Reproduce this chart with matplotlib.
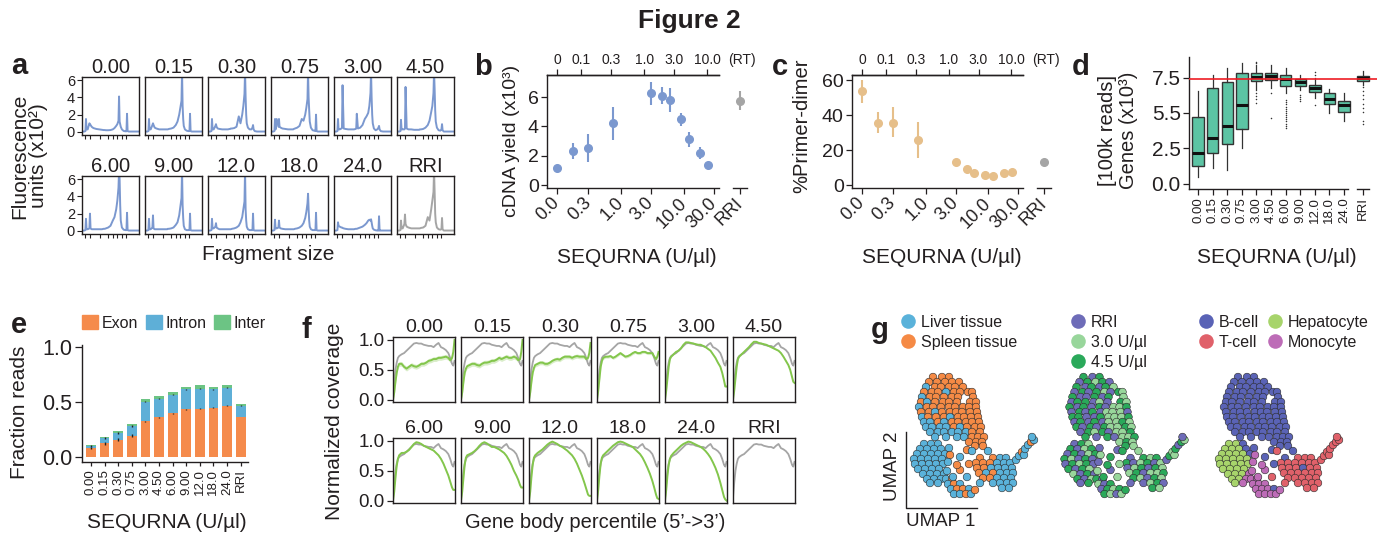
import numpy as np
import matplotlib
matplotlib.use("Agg")
import matplotlib.pyplot as plt
from matplotlib.patches import Patch
from matplotlib.lines import Line2D

# ---------------------------------------------------------------- data
CONC_LABELS = ["0.00", "0.15", "0.30", "0.75", "3.00", "4.50",
               "6.00", "9.00", "12.0", "18.0", "24.0"]
PANEL_TITLES = CONC_LABELS + ["RRI"]
SEQURNA = [0.0, 0.15, 0.30, 0.75, 3.0, 4.5, 6.0, 9.0, 12.0, 18.0, 24.0]

# (a) fluorescence traces (x10^2) vs fragment size (relative position)
FRAG_X = [0, 4, 6, 7, 8, 10, 13, 14, 15, 17, 20, 25, 30, 35, 38, 39, 40, 42, 46, 50,
          54, 57, 60, 62, 64, 65, 66, 67, 68, 70, 73, 76, 78, 79, 80, 82, 86, 90, 95, 100]
FRAG_TICKS = [5, 14, 32, 46, 55, 62, 71, 78]
TRACE_000 = [0.05, 0.05, 0.1, 1.5, 0.3, 0.3, 1.0, 0.9, 0.8, 0.6, 0.45, 0.35, 0.3, 0.25, 0.22, 0.22, 0.22, 0.2, 0.2, 0.22,
             0.3, 0.45, 0.7, 0.9, 1.3, 4.1, 1.2, 0.9, 0.6, 0.3, 0.12, 0.08, 0.08, 2.1, 0.1, 0.05, 0.05, 0.05, 0.05, 0.05]
TRACE_015 = [0.05, 0.05, 0.1, 1.5, 0.3, 0.3, 0.8, 1.0, 0.8, 0.5, 0.4, 0.3, 0.3, 0.3, 0.3, 0.3, 0.3, 0.35, 0.4, 0.5,
             0.8, 1.2, 2.0, 2.8, 3.6, 7.0, 3.0, 1.5, 0.7, 0.3, 0.15, 0.1, 0.1, 2.1, 0.1, 0.05, 0.05, 0.05, 0.05, 0.05]
TRACE_030 = [0.05, 0.05, 0.1, 1.5, 0.3, 0.3, 0.7, 0.9, 0.6, 0.4, 0.35, 0.3, 0.3, 0.3, 0.35, 0.35, 0.4, 0.4, 0.45, 0.6,
             1.8, 1.0, 2.0, 3.0, 4.4, 7.0, 4.0, 2.0, 1.0, 0.5, 0.3, 0.3, 0.5, 0.8, 0.3, 0.1, 0.05, 0.05, 0.05, 0.05]
TRACE_075 = [0.05, 0.05, 0.1, 1.5, 0.3, 1.5, 0.6, 1.5, 0.6, 0.5, 0.4, 0.35, 0.3, 0.3, 0.3, 0.3, 0.35, 0.4, 0.5, 0.7,
             1.5, 1.3, 2.0, 2.8, 3.8, 7.0, 4.0, 2.5, 1.2, 0.5, 0.2, 0.15, 0.1, 2.0, 0.1, 0.05, 0.05, 0.05, 0.05, 0.05]
TRACE_300 = [0.05, 0.05, 0.1, 1.5, 0.3, 0.3, 0.4, 0.5, 5.4, 0.4, 0.35, 0.3, 0.3, 0.3, 0.35, 0.4, 2.1, 0.4, 0.5, 0.8,
             1.5, 1.8, 2.2, 3.0, 4.5, 7.0, 4.0, 2.0, 1.0, 0.4, 0.2, 0.3, 0.5, 0.7, 0.3, 0.1, 0.05, 0.05, 0.05, 0.05]
TRACE_450 = [0.05, 0.05, 0.1, 1.4, 0.3, 0.3, 0.3, 0.4, 5.2, 0.4, 0.3, 0.3, 0.25, 0.25, 0.25, 0.25, 0.3, 0.3, 0.35, 0.5,
             0.8, 1.3, 2.3, 3.0, 4.5, 7.0, 5.0, 2.5, 1.2, 0.5, 0.2, 0.15, 0.3, 0.9, 0.2, 0.05, 0.05, 0.05, 0.05, 0.05]
TRACE_600 = [0.05, 0.05, 0.1, 1.4, 0.2, 0.2, 0.3, 2.0, 0.3, 0.2, 0.2, 0.2, 0.2, 0.2, 0.25, 0.25, 0.25, 0.3, 0.4, 0.6,
             1.2, 1.6, 2.5, 3.5, 5.0, 7.0, 6.0, 3.0, 1.2, 0.4, 0.15, 0.1, 0.1, 2.1, 0.1, 0.05, 0.05, 0.05, 0.05, 0.05]
TRACE_900 = [0.05, 0.05, 0.1, 1.4, 0.2, 0.2, 0.4, 1.8, 0.3, 0.2, 0.2, 0.2, 0.2, 0.2, 0.2, 0.2, 0.25, 0.25, 0.3, 0.4,
             0.7, 1.0, 1.8, 2.8, 3.8, 7.0, 3.0, 1.5, 0.6, 0.2, 0.1, 0.1, 0.1, 2.0, 0.1, 0.05, 0.05, 0.05, 0.05, 0.05]
TRACE_120 = [0.05, 0.05, 0.1, 1.4, 0.3, 0.3, 0.5, 0.9, 0.4, 0.3, 0.2, 0.2, 0.2, 0.2, 0.2, 0.2, 0.2, 0.25, 0.3, 0.4,
             0.6, 1.0, 1.6, 2.5, 3.4, 7.0, 2.5, 1.2, 0.5, 0.2, 0.1, 0.1, 0.1, 2.0, 0.1, 0.05, 0.05, 0.05, 0.05, 0.05]
TRACE_180 = [0.05, 0.05, 0.1, 1.3, 0.3, 0.3, 0.4, 1.2, 0.4, 0.3, 0.25, 0.2, 0.2, 0.2, 0.2, 0.2, 0.2, 0.25, 0.3, 0.4,
             0.6, 0.9, 1.5, 2.2, 3.2, 4.3, 2.5, 1.2, 0.5, 0.2, 0.1, 0.1, 0.1, 2.1, 0.1, 0.05, 0.05, 0.05, 0.05, 0.05]
TRACE_240 = [0.05, 0.05, 0.1, 1.0, 0.6, 0.5, 0.4, 0.4, 0.35, 0.3, 0.25, 0.2, 0.2, 0.2, 0.25, 0.25, 0.25, 0.3, 0.4, 0.5,
             0.7, 0.9, 1.2, 1.3, 1.2, 1.35, 1.0, 0.6, 0.3, 0.15, 0.08, 0.05, 0.05, 1.7, 0.05, 0.05, 0.05, 0.05, 0.05, 0.05]
TRACE_RRI = [0.05, 0.05, 0.1, 1.2, 0.3, 0.3, 0.8, 1.9, 0.8, 0.5, 0.4, 0.3, 0.3, 0.3, 0.3, 0.3, 0.3, 0.35, 0.4, 0.6,
             1.6, 1.2, 2.5, 3.5, 4.5, 7.0, 4.5, 2.0, 1.0, 0.4, 0.2, 0.15, 0.2, 1.5, 0.2, 0.05, 0.05, 0.05, 0.05, 0.05]
FLUOR_TRACES = [TRACE_000, TRACE_015, TRACE_030, TRACE_075, TRACE_300, TRACE_450,
                TRACE_600, TRACE_900, TRACE_120, TRACE_180, TRACE_240, TRACE_RRI]

# (b) cDNA yield (x10^3)
CDNA_YIELD = [1.18, 2.34, 2.50, 4.20, 6.30, 6.09, 5.80, 4.50, 3.11, 2.20, 1.36]
CDNA_LOW = [1.05, 1.77, 1.55, 3.07, 5.45, 5.50, 5.00, 4.02, 2.61, 1.77, 1.25]
CDNA_HIGH = [1.30, 2.84, 3.48, 5.30, 7.04, 6.66, 6.60, 4.93, 3.59, 2.61, 1.47]
CDNA_RRI, CDNA_RRI_LOW, CDNA_RRI_HIGH = 5.75, 5.10, 6.40

# (c) % primer-dimer
PRIMER_DIMER = [53.7, 35.8, 35.8, 25.7, 13.3, 9.0, 6.7, 5.7, 5.1, 7.0, 7.2]
PD_LOW = [47.0, 29.7, 27.4, 15.4, 12.3, 8.2, 6.0, 5.0, 4.4, 6.3, 6.5]
PD_HIGH = [60.0, 41.9, 44.6, 36.0, 14.3, 9.8, 7.4, 6.4, 5.8, 7.7, 7.9]
PD_RRI, PD_RRI_LOW, PD_RRI_HIGH = 13.3, 12.5, 14.1

SEQ_TICKS = [0.0, 0.3, 1.0, 3.0, 10.0, 30.0]
SEQ_TICK_LABELS = ["0.0", "0.3", "1.0", "3.0", "10.0", "30.0"]
RT_TICKS = [0.0, 0.1, 0.3, 1.0, 3.0, 10.0]
RT_TICK_LABELS = ["0", "0.1", "0.3", "1.0", "3.0", "10.0"]
RT_PER_SEQURNA = 0.43

# (d) genes detected (x10^3) box statistics
BOX_LABELS = CONC_LABELS + ["RRI"]
GENES_WHISLO = [0.50, 1.09, 0.97, 2.50, 6.60, 6.74, 6.38, 6.60, 6.03, 5.01, 4.45, 6.97]
GENES_Q1 = [1.27, 2.19, 2.78, 3.89, 7.28, 7.32, 6.92, 6.92, 6.50, 5.63, 5.08, 7.25]
GENES_MED = [2.15, 3.20, 4.10, 5.58, 7.56, 7.63, 7.39, 7.16, 6.74, 5.98, 5.56, 7.49]
GENES_Q3 = [4.73, 6.78, 7.20, 7.84, 7.80, 7.80, 7.68, 7.37, 6.97, 6.38, 5.86, 7.63]
GENES_WHISHI = [6.55, 7.68, 8.15, 8.55, 8.35, 8.35, 8.20, 7.68, 7.45, 6.67, 6.43, 7.98]
GENES_FLIERS = [[], [], [], [],
                [8.5, 8.62, 6.4, 6.2, 6.0, 5.7],
                [6.42, 4.62],
                [5.9, 5.75, 5.6, 5.45, 5.3, 5.15, 5.0, 4.85, 4.7, 4.55, 4.4, 4.25, 4.1, 3.95],
                [6.28, 6.12, 5.96, 5.82],
                [7.88, 7.7, 5.58],
                [], [],
                [6.82, 6.55, 6.25, 5.95, 5.65, 5.35, 5.1, 4.4, 4.2]]
GENES_REFERENCE = 7.4

# (e) fraction of reads
EXON = [0.082, 0.125, 0.155, 0.192, 0.326, 0.360, 0.396, 0.433, 0.439, 0.448, 0.466, 0.363]
INTRON = [0.018, 0.049, 0.061, 0.088, 0.177, 0.170, 0.171, 0.183, 0.183, 0.168, 0.165, 0.103]
INTER = [0.007, 0.006, 0.018, 0.019, 0.024, 0.025, 0.028, 0.024, 0.030, 0.024, 0.024, 0.016]
EXON_SD = [0.012, 0.014, 0.014, 0.014, 0.004, 0.003, 0.003, 0.004, 0.003, 0.003, 0.003, 0.003]
INTRON_SD = [0.006, 0.008, 0.009, 0.008, 0.003, 0.003, 0.003, 0.003, 0.003, 0.003, 0.003, 0.003]

# (f) gene body coverage
COV_X = [0, 2, 4, 6, 8, 10, 14, 18, 22, 26, 30, 34, 38, 42, 46, 50, 54, 58, 62, 66,
         70, 74, 78, 82, 86, 90, 93, 96, 98, 100]
COV_RRI = [0.05, 0.30, 0.50, 0.62, 0.70, 0.73, 0.76, 0.78, 0.82, 0.86, 0.90, 0.94, 0.95, 0.94, 0.94, 0.92, 0.91, 0.90, 0.90, 0.88,
           0.92, 0.95, 0.88, 0.86, 0.83, 0.78, 0.70, 0.60, 0.57, 0.65]
COV_000 = [0.0, 0.12, 0.30, 0.45, 0.55, 0.60, 0.60, 0.55, 0.52, 0.55, 0.58, 0.56, 0.55, 0.57, 0.60, 0.60, 0.62, 0.65, 0.66, 0.68,
           0.68, 0.70, 0.70, 0.71, 0.72, 0.70, 0.66, 0.70, 0.80, 1.00]
COV_015 = [0.0, 0.12, 0.30, 0.45, 0.52, 0.56, 0.58, 0.60, 0.60, 0.58, 0.57, 0.60, 0.62, 0.62, 0.63, 0.65, 0.65, 0.67, 0.70, 0.68,
           0.70, 0.72, 0.70, 0.70, 0.72, 0.70, 0.66, 0.68, 0.80, 1.00]
COV_030 = [0.0, 0.12, 0.30, 0.45, 0.53, 0.58, 0.60, 0.62, 0.62, 0.60, 0.60, 0.62, 0.65, 0.67, 0.68, 0.67, 0.70, 0.72, 0.72, 0.72,
           0.70, 0.72, 0.73, 0.72, 0.72, 0.72, 0.68, 0.70, 0.78, 0.95]
COV_075 = [0.0, 0.15, 0.35, 0.55, 0.65, 0.70, 0.72, 0.72, 0.73, 0.70, 0.72, 0.75, 0.78, 0.75, 0.72, 0.73, 0.75, 0.78, 0.80, 0.78,
           0.78, 0.80, 0.80, 0.78, 0.78, 0.78, 0.72, 0.68, 0.72, 0.80]
COV_300 = [0.0, 0.15, 0.35, 0.55, 0.68, 0.72, 0.76, 0.80, 0.82, 0.86, 0.92, 0.96, 0.96, 0.95, 0.94, 0.93, 0.92, 0.92, 0.90, 0.88,
           0.85, 0.82, 0.76, 0.70, 0.62, 0.55, 0.45, 0.32, 0.22, 0.22]
COV_450 = [0.0, 0.15, 0.35, 0.55, 0.68, 0.72, 0.76, 0.80, 0.84, 0.88, 0.93, 0.97, 0.97, 0.95, 0.94, 0.93, 0.92, 0.90, 0.88, 0.86,
           0.84, 0.82, 0.78, 0.72, 0.65, 0.58, 0.50, 0.38, 0.30, 0.28]
COV_600 = [0.0, 0.15, 0.38, 0.58, 0.70, 0.76, 0.80, 0.80, 0.82, 0.85, 0.90, 0.95, 0.98, 0.97, 0.95, 0.92, 0.90, 0.88, 0.86, 0.84,
           0.80, 0.76, 0.70, 0.62, 0.52, 0.42, 0.32, 0.22, 0.18, 0.18]
COV_900 = [0.0, 0.15, 0.38, 0.60, 0.72, 0.76, 0.78, 0.80, 0.83, 0.87, 0.92, 0.96, 0.98, 0.96, 0.93, 0.90, 0.90, 0.88, 0.86, 0.83,
           0.80, 0.75, 0.68, 0.60, 0.50, 0.42, 0.35, 0.26, 0.22, 0.22]
COV_120 = [0.0, 0.15, 0.40, 0.60, 0.72, 0.76, 0.80, 0.83, 0.86, 0.90, 0.94, 0.97, 0.99, 0.97, 0.95, 0.92, 0.90, 0.87, 0.84, 0.80,
           0.76, 0.70, 0.62, 0.52, 0.42, 0.30, 0.20, 0.10, 0.08, 0.08]
COV_180 = [0.0, 0.18, 0.42, 0.62, 0.72, 0.76, 0.80, 0.84, 0.88, 0.92, 0.95, 0.98, 0.99, 0.98, 0.96, 0.94, 0.92, 0.90, 0.86, 0.82,
           0.78, 0.72, 0.64, 0.55, 0.45, 0.33, 0.22, 0.10, 0.04, 0.03]
COV_240 = [0.0, 0.18, 0.42, 0.60, 0.70, 0.75, 0.80, 0.84, 0.88, 0.92, 0.95, 0.97, 0.99, 0.98, 0.96, 0.94, 0.92, 0.90, 0.87, 0.83,
           0.78, 0.72, 0.64, 0.55, 0.44, 0.30, 0.18, 0.06, 0.02, 0.00]
COV_SAMPLES = [COV_000, COV_015, COV_030, COV_075, COV_300, COV_450,
               COV_600, COV_900, COV_120, COV_180, COV_240, None]
COV_SE = [0.04, 0.04, 0.035, 0.025, 0.01, 0.01, 0.01, 0.01, 0.01, 0.01, 0.01, 0.0]

# (g) UMAP embedding, rows of cells (UMAP2 value per row, UMAP1 values in row)
BCL_V = [12.3, 11.8, 11.3, 10.8, 10.3, 9.8, 9.3, 8.8, 8.3, 7.8, 7.3, 6.8, 6.3, 5.8, 5.4]
BCL_U = [[2.3, 3.2, 3.9],
         [1.9, 2.7, 3.5, 4.2, 4.9],
         [1.6, 2.5, 3.1, 3.9, 4.5, 5.3],
         [1.4, 2.2, 2.8, 3.6, 4.4, 5.0, 5.8, 6.2],
         [1.2, 2.0, 2.6, 3.4, 4.2, 4.8, 6.3],
         [1.1, 1.7, 2.5, 3.3, 3.9, 4.7, 6.0, 6.6],
         [0.9, 1.7, 2.3, 3.1, 3.9, 4.5, 5.3, 5.9, 6.6],
         [1.1, 1.9, 2.5, 3.2, 4.0, 4.6, 5.2, 6.0, 6.7],
         [1.2, 1.8, 2.6, 3.4, 4.0, 4.8, 5.4, 6.1, 6.8],
         [1.4, 2.0, 2.8, 3.4, 4.2, 4.8, 5.6, 6.2, 6.9],
         [1.6, 2.2, 3.0, 3.6, 4.4, 5.0, 5.7, 6.5, 7.1],
         [2.0, 2.8, 3.4, 4.2, 4.8, 5.6, 6.2, 7.0],
         [2.5, 3.6, 4.7, 5.4, 6.2, 6.8, 7.4],
         [5.9, 6.6, 7.2],
         [6.5, 7.3]]
BCL_TISSUE = ["SSS", "SSSSS", "LSSSSS", "SSSLSSSS", "LSSSSSS", "SLSSSSSS", "LSSSSSSSS", "SSLSSSSSS",
              "LSSSLSSSS", "LLSLSSSSS", "LLLLSLSSS", "LLLLLLSS", "LLLLSSS", "SSS", "SS"]
BCL_COND = ["BRB", "RBABR", "BRBRBA", "RBRBARBA", "BRRBRBA", "RBBRARBA", "BRBRBRAAB", "RBRBRAAAR",
            "BBRRBAAAB", "RBRBRAABA", "BRBRBAABA", "RBABRAAB", "BRBRAAB", "ABA", "BA"]
BCL_TYPE = ["BBB", "BBBBB", "BBBBBB", "BBBBBBBB", "BBBBBBB", "BBBBBBBB", "BBBBBBBBB", "BBBBBBBBB",
            "BBBBBBBBB", "BBBBBBBBB", "BBBBBBBBB", "BBBBBBBB", "BBBBBBB", "BBB", "BB"]

HEP_V = [5.6, 5.1, 4.6, 4.1, 3.6, 3.1, 2.6, 2.1, 1.7]
HEP_U = [[1.4, 2.1, 2.8], [1.0, 1.7, 2.4, 3.1], [0.7, 1.4, 2.1, 2.8, 3.5], [0.4, 1.1, 1.8, 2.5, 3.2],
         [0.5, 1.2, 1.9, 2.6, 3.3], [0.8, 1.5, 2.2, 2.9], [1.3, 2.0, 2.7, 3.4], [1.7, 2.4, 3.1], [2.0, 2.8]]
HEP_TISSUE = ["LLL", "LLLL", "LLLLL", "LLLLL", "LLLLL", "LLLL", "LLLL", "LLL", "LL"]
HEP_COND = ["RBA", "BRAB", "RBRAB", "BARBR", "RBABR", "BRBA", "ARBR", "BRA", "RB"]
HEP_TYPE = ["HHB", "HHHB", "HHHHB", "HHHHH", "HHHHH", "HHHH", "HHHM", "HHM", "HM"]

MONO_V = [2.1, 1.6, 1.1, 0.6]
MONO_U = [[3.6, 4.2], [3.8, 4.4, 5.0], [4.1, 4.7, 5.3, 5.9], [4.4, 5.0, 5.6, 6.1]]
MONO_TISSUE = ["LS", "LSL", "LSSL", "LLSL"]
MONO_COND = ["BR", "ARB", "RBAB", "BARA"]
MONO_TYPE = ["MM", "MMM", "MMMB", "MMMM"]

TCL_V = [4.2, 3.7, 3.2, 2.7, 2.2, 1.7, 1.2]
TCL_U = [[7.0, 8.3, 9.0, 9.6], [6.6, 7.3, 8.0, 8.7, 9.4, 10.0], [6.7, 7.4, 8.1, 8.8, 9.5, 10.2],
         [6.9, 7.6, 8.3, 9.0, 9.7, 10.3], [7.3, 8.0, 8.7, 9.4, 10.1], [8.3, 9.0, 9.7, 10.3], [9.2, 9.9]]
TCL_TISSUE = ["SSLL", "SSSLLL", "SSLLLL", "SLSLLL", "SSLLL", "LLLL", "LL"]
TCL_COND = ["RBAB", "BRABRA", "RABRBA", "ABRAAB", "BARBA", "RABR", "BA"]
TCL_TYPE = ["BTTT", "TTTTTT", "TTTBTT", "TTTTTT", "TTTTT", "TTTT", "TT"]

TAIL_U = [10.6, 10.9, 11.2, 11.4, 11.5, 11.8, 12.1, 12.4, 12.2]
TAIL_V = [4.0, 4.4, 4.8, 4.5, 5.1, 5.5, 5.8, 6.0, 6.3]
TAIL_TISSUE = "LLSLLLSLL"
TAIL_COND = "RBAABRBAR"
TAIL_TYPE = "TTTTTTTTT"

MIX_U = [3.9, 4.0, 5.0, 5.0, 4.3, 3.7, 5.7, 6.2, 7.8, 3.8, 4.7, 5.7, 6.5, 7.0, 5.9]
MIX_V = [5.2, 4.5, 4.3, 3.0, 2.3, 2.9, 5.0, 4.9, 4.9, 3.8, 3.5, 2.3, 1.0, 1.7, 3.6]
MIX_TISSUE = "LSLSLLSLLLSLSLS"
MIX_COND = "RABRBARBARBABRA"
MIX_TYPE = "BMBMMMBTBMMTMTB"

# ---------------------------------------------------------------- style
plt.rcParams['font.family'] = ['Liberation Sans', 'DejaVu Sans']
TXT = '#231f20'
for k in ['text.color', 'axes.edgecolor', 'xtick.color', 'ytick.color', 'axes.labelcolor']:
    plt.rcParams[k] = TXT
plt.rcParams['axes.linewidth'] = 1.0

BLUE = '#7b98cf'
GRAY = '#a5a5a5'
TAN = '#e6bf8a'
BOXGREEN = '#5cc4a4'
GREEN = '#83c64c'
EXON_C, INTRON_C, INTER_C = '#f58b4c', '#5eafd7', '#6cc484'
TISSUE_COLORS = {'L': '#5ab2da', 'S': '#f58a45'}
COND_COLORS = {'R': '#6e6cb8', 'A': '#98d69b', 'B': '#2aa95a'}
TYPE_COLORS = {'B': '#5a63b6', 'T': '#e0616a', 'H': '#a7d46b', 'M': '#bd6cb7'}

W, H = 1378, 536
fig = plt.figure(figsize=(W / 100, H / 100), dpi=100)


def rect(x0, y0, x1, y1):
    return [x0 / W, 1 - y1 / H, (x1 - x0) / W, (y1 - y0) / H]


def fx(x):
    return x / W


def fy(y):
    return 1 - y / H


def ftext(x, y, s, **kw):
    kw.setdefault('ha', 'center')
    kw.setdefault('va', 'center')
    fig.text(fx(x), fy(y), s, **kw)


def letter(x, y, s):
    fig.text(fx(x), fy(y), s, ha='left', va='baseline', fontsize=21, fontweight='bold')


ftext(689, 21, 'Figure 2', fontsize=19, fontweight='bold')

# ---------------------------------------------------------------- (a)
letter(11, 74, 'a')
for i, (title, trace) in enumerate(zip(PANEL_TITLES, FLUOR_TRACES)):
    r, c = divmod(i, 6)
    x0 = 82 + c * 63
    y0 = 77 if r == 0 else 176
    ax = fig.add_axes(rect(x0, y0, x0 + 57, y0 + 58))
    ax.plot(FRAG_X, trace, color=GRAY if title == 'RRI' else BLUE, lw=1.4)
    ax.set_xlim(0, 100)
    ax.set_ylim(-0.35, 6.35)
    ax.set_xticks(FRAG_TICKS)
    ax.set_xticklabels([])
    ax.tick_params(axis='x', length=3, width=0.8)
    if c == 0:
        ax.set_yticks([0, 2, 4, 6])
        ax.tick_params(axis='y', labelsize=10.5, length=3.5, width=0.8, pad=1.5)
    else:
        ax.set_yticks([])
    ax.set_title(title, fontsize=14.5, pad=2)
ftext(29, 156, 'Fluorescence\nunits (x10²)', rotation=90, fontsize=15, linespacing=1.0)
ftext(268, 254, 'Fragment size', fontsize=15)


# ---------------------------------------------------------------- (b) & (c)
def seq_fwd(x):
    x = np.asarray(x, float)
    return np.where(x < 0.3, x / 0.3, 1 + 2 * np.log10(np.maximum(x, 0.3) / 0.3))


def seq_inv(p):
    p = np.asarray(p, float)
    return np.where(p < 1, 0.3 * p, 0.3 * 10 ** ((np.maximum(p, 1) - 1) / 2))


XLIM_SEQ = (-0.096, 36.0)


def dose_panel(x0, x1, yvals, lows, highs, rri, rri_lo, rri_hi, color, ylim, yticks, rt_x):
    ax = fig.add_axes(rect(x0, 75, x1, 188))
    ax.set_xscale('function', functions=(seq_fwd, seq_inv))
    yv = np.array(yvals)
    ax.errorbar(SEQURNA, yv, yerr=[yv - np.array(lows), np.array(highs) - yv], fmt='o',
                color=color, ms=5.5, elinewidth=1.5, capsize=0, clip_on=False, zorder=3)
    ax.set_xlim(*XLIM_SEQ)
    ax.set_ylim(*ylim)
    ax.set_yticks(yticks)
    ax.set_xticks(SEQ_TICKS)
    ax.set_xticklabels(SEQ_TICK_LABELS, rotation=45, ha='right', va='center', rotation_mode='anchor')
    ax.tick_params(axis='x', labelsize=13, length=4, width=0.9, pad=5)
    ax.tick_params(axis='y', labelsize=14, length=4, width=0.9, pad=2)
    ax.spines['right'].set_visible(False)
    ax.minorticks_off()
    # top axis in RT units
    at = ax.twiny()
    at.set_xscale('function', functions=(seq_fwd, seq_inv))
    at.set_xlim(*XLIM_SEQ)
    at.set_xticks([v / RT_PER_SEQURNA for v in RT_TICKS])
    at.set_xticklabels(RT_TICK_LABELS)
    at.minorticks_off()
    at.tick_params(axis='x', labelsize=10, length=4, width=0.9, pad=1.5)
    for s in ['right', 'left', 'bottom']:
        at.spines[s].set_visible(False)
    ftext(rt_x, 60, '(RT)', fontsize=10)
    # RRI
    ar = fig.add_axes(rect(x1 + 14, 75, x1 + 28, 188))
    ar.errorbar([0], [rri], yerr=[[rri - rri_lo], [rri_hi - rri]], fmt='o', color=GRAY,
                ms=5.5, elinewidth=1.5, capsize=0, clip_on=False)
    ar.set_xlim(-1, 1)
    ar.set_ylim(*ylim)
    ar.set_yticks([])
    ar.set_xticks([0])
    ar.set_xticklabels(['RRI'], rotation=45, ha='right', va='center', rotation_mode='anchor')
    ar.tick_params(axis='x', labelsize=13, length=4, width=0.9, pad=5)
    for s in ['right', 'left', 'top']:
        ar.spines[s].set_visible(False)
    ar.patch.set_alpha(0)
    return ax


letter(474, 75, 'b')
dose_panel(547, 719, CDNA_YIELD, CDNA_LOW, CDNA_HIGH, CDNA_RRI, CDNA_RRI_LOW, CDNA_RRI_HIGH,
           BLUE, (-0.2, 7.5), [0, 2, 4, 6], 742)
ftext(512, 141, 'cDNA yield (x10³)', rotation=90, fontsize=14)
ftext(637, 257, 'SEQURNA (U/µl)', fontsize=15)

letter(772, 75, 'c')
dose_panel(852, 1023, PRIMER_DIMER, PD_LOW, PD_HIGH, PD_RRI, PD_RRI_LOW, PD_RRI_HIGH,
           TAN, (-1.7, 63), [0, 20, 40, 60], 1046)
ftext(802, 126, '%Primer-dimer', rotation=90, fontsize=14.5)
ftext(942, 257, 'SEQURNA (U/µl)', fontsize=15)

# ---------------------------------------------------------------- (d)
letter(1072, 75, 'd')
axd = fig.add_axes(rect(1189, 57, 1377, 189))
pos_d = list(range(11)) + [11.3]
stats = []
for lab, lo, q1, med, q3, hi, fl in zip(BOX_LABELS, GENES_WHISLO, GENES_Q1, GENES_MED,
                                         GENES_Q3, GENES_WHISHI, GENES_FLIERS):
    stats.append(dict(label=lab, whislo=lo, q1=q1, med=med, q3=q3, whishi=hi, fliers=fl))
axd.bxp(stats, positions=pos_d, widths=0.78, patch_artist=True, showcaps=False,
        boxprops=dict(facecolor=BOXGREEN, edgecolor='#333333', linewidth=1.0),
        medianprops=dict(color='#111111', linewidth=2.2),
        whiskerprops=dict(color='#333333', linewidth=0.9),
        flierprops=dict(marker='.', markersize=2.2, markerfacecolor='#333333',
                        markeredgecolor='none'))
axd.axhline(GENES_REFERENCE, color='#ee1c24', lw=1.2, zorder=5)
axd.set_xlim(-0.62, 12.26)
axd.set_ylim(-0.37, 8.95)
axd.set_yticks([0, 2.5, 5.0, 7.5])
axd.set_yticklabels(['0.0', '2.5', '5.5', '7.5'])
axd.set_xticks(pos_d)
axd.set_xticklabels(BOX_LABELS, rotation=90)
axd.tick_params(axis='y', labelsize=15, length=4, width=0.9, pad=2)
axd.tick_params(axis='x', labelsize=9.5, length=4, width=0.9, pad=2)
axd.spines['top'].set_visible(False)
axd.spines['right'].set_visible(False)
axd.spines['bottom'].set_bounds(-0.62, 10.27)
axd.plot([10.9, 11.7], [0, 0], color=TXT, lw=1.0, clip_on=False,
         transform=axd.get_xaxis_transform())
ftext(1118, 130, '[100k reads]\nGenes (x10³)', rotation=90, fontsize=14.5, linespacing=1.1)
ftext(1277, 257, 'SEQURNA (U/µl)', fontsize=15)

# ---------------------------------------------------------------- (e)
letter(11, 333, 'e')
axe = fig.add_axes(rect(82, 345, 248, 462))
pos_e = np.arange(len(EXON))
ex, it, ie = np.array(EXON), np.array(INTRON), np.array(INTER)
axe.bar(pos_e, ex, width=0.72, color=EXON_C, label='Exon')
axe.bar(pos_e, it, bottom=ex, width=0.72, color=INTRON_C, label='Intron')
axe.bar(pos_e, ie, bottom=ex + it, width=0.72, color=INTER_C, label='Inter')
axe.errorbar(pos_e, ex, yerr=EXON_SD, fmt='none', ecolor='#222222', elinewidth=1.0, capsize=0)
axe.errorbar(pos_e, ex + it, yerr=INTRON_SD, fmt='none', ecolor='#222222', elinewidth=1.0, capsize=0)
axe.set_xlim(-0.66, 11.54)
axe.set_ylim(-0.046, 1.02)
axe.set_yticks([0, 0.5, 1.0])
axe.set_yticklabels(['0.0', '0.5', '1.0'])
axe.set_xticks(pos_e)
axe.set_xticklabels(PANEL_TITLES, rotation=90)
axe.tick_params(axis='y', labelsize=15.5, length=5, width=0.9, pad=2)
axe.tick_params(axis='x', labelsize=9.5, length=3, width=0.9, pad=2)
axe.spines['top'].set_visible(False)
axe.spines['right'].set_visible(False)
fig.legend(handles=[Patch(color=EXON_C, label='Exon'), Patch(color=INTRON_C, label='Intron'),
                    Patch(color=INTER_C, label='Inter')],
           loc='upper left', bbox_to_anchor=(fx(82), fy(315)), ncol=3, frameon=False,
           fontsize=11.5, handlelength=1.0, handleheight=1.0, handletextpad=0.25,
           columnspacing=0.45, borderpad=0, borderaxespad=0)
ftext(20, 412, 'Fraction reads', rotation=90, fontsize=15)
ftext(167, 522, 'SEQURNA (U/µl)', fontsize=15)

# ---------------------------------------------------------------- (f)
letter(302, 338, 'f')
for i, (title, cov, se) in enumerate(zip(PANEL_TITLES, COV_SAMPLES, COV_SE)):
    r, c = divmod(i, 6)
    x0 = 393 + c * 68
    y0 = 337 if r == 0 else 438
    ax = fig.add_axes(rect(x0, y0, x0 + 61.5, y0 + 65))
    ax.plot(COV_X, COV_RRI, color=GRAY, lw=1.3)
    if cov is not None:
        cv = np.array(cov)
        if se > 0:
            ax.fill_between(COV_X, cv - se, cv + se, color=GREEN, alpha=0.3, lw=0)
        ax.plot(COV_X, cv, color=GREEN, lw=1.4)
    ax.set_xlim(0, 100)
    ax.set_ylim(-0.04, 1.05)
    ax.set_xticks([])
    if c == 0:
        ax.set_yticks([0, 0.5, 1.0])
        ax.set_yticklabels(['0.0', '0.5', '1.0'])
        ax.tick_params(axis='y', labelsize=13.5, length=4, width=0.9, pad=2)
    else:
        ax.set_yticks([])
    ax.set_title(title, fontsize=14, pad=3.5)
ftext(335, 421, 'Normalized coverage', rotation=90, fontsize=15)
ftext(595, 523, 'Gene body percentile (5’->3’)', fontsize=14.5)

# ---------------------------------------------------------------- (g)
letter(871, 338, 'g')


def flat_rows(vs, us, *labels):
    U = [u for v, row in zip(vs, us) for u in row]
    V = [v for v, row in zip(vs, us) for u in row]
    labs = [''.join(l) for l in labels]
    return U, V, labs


parts = [flat_rows(BCL_V, BCL_U, BCL_TISSUE, BCL_COND, BCL_TYPE),
         flat_rows(HEP_V, HEP_U, HEP_TISSUE, HEP_COND, HEP_TYPE),
         flat_rows(MONO_V, MONO_U, MONO_TISSUE, MONO_COND, MONO_TYPE),
         flat_rows(TCL_V, TCL_U, TCL_TISSUE, TCL_COND, TCL_TYPE),
         (TAIL_U, TAIL_V, [TAIL_TISSUE, TAIL_COND, TAIL_TYPE]),
         (MIX_U, MIX_V, [MIX_TISSUE, MIX_COND, MIX_TYPE])]
UM1 = [u for p in parts for u in p[0]]
UM2 = [v for p in parts for v in p[1]]
LAB_TISSUE = ''.join(p[2][0] for p in parts)
LAB_COND = ''.join(p[2][1] for p in parts)
LAB_TYPE = ''.join(p[2][2] for p in parts)

for k, (labs, cmap) in enumerate([(LAB_TISSUE, TISSUE_COLORS), (LAB_COND, COND_COLORS),
                                  (LAB_TYPE, TYPE_COLORS)]):
    x0 = [900, 1050.5, 1205][k]
    ax = fig.add_axes(rect(x0, 370, x0 + 145, 510))
    ax.scatter(UM1, UM2, c=[cmap[l] for l in labs], s=30, edgecolors='#2a2a2a', linewidths=0.4)
    ax.set_xlim(-1, 13.5)
    ax.set_ylim(-1, 13)
    ax.axis('off')
    if k == 0:
        ax.plot([0.039, 0.039, 0.53], [0.559, 0.012, 0.012], color=TXT, lw=1.0,
                transform=ax.transAxes, clip_on=False)


def dot(c, l):
    return Line2D([], [], ls='', marker='o', markersize=10.5, markerfacecolor=c,
                  markeredgecolor='none', label=l)


legkw = dict(loc='upper left', frameon=False, fontsize=11.5, handlelength=0.9,
             handletextpad=0.35, labelspacing=0.3, borderpad=0, borderaxespad=0)
fig.legend(handles=[dot(TISSUE_COLORS['L'], 'Liver tissue'), dot(TISSUE_COLORS['S'], 'Spleen tissue')],
           bbox_to_anchor=(fx(901), fy(315)), **legkw)
fig.legend(handles=[dot(COND_COLORS['R'], 'RRI'), dot(COND_COLORS['A'], '3.0 U/µl'),
                    dot(COND_COLORS['B'], '4.5 U/µl')],
           bbox_to_anchor=(fx(1071), fy(315)), **legkw)
fig.legend(handles=[dot(TYPE_COLORS['B'], 'B-cell'), dot(TYPE_COLORS['T'], 'T-cell'),
                    dot(TYPE_COLORS['H'], 'Hepatocyte'), dot(TYPE_COLORS['M'], 'Monocyte')],
           bbox_to_anchor=(fx(1199), fy(315)), ncol=2, columnspacing=0.55, **legkw)
ftext(892, 466, 'UMAP 2', rotation=90, fontsize=13.5)
ftext(941, 521, 'UMAP 1', fontsize=13.5)

fig.savefig('out.png', dpi=100, facecolor='white')
